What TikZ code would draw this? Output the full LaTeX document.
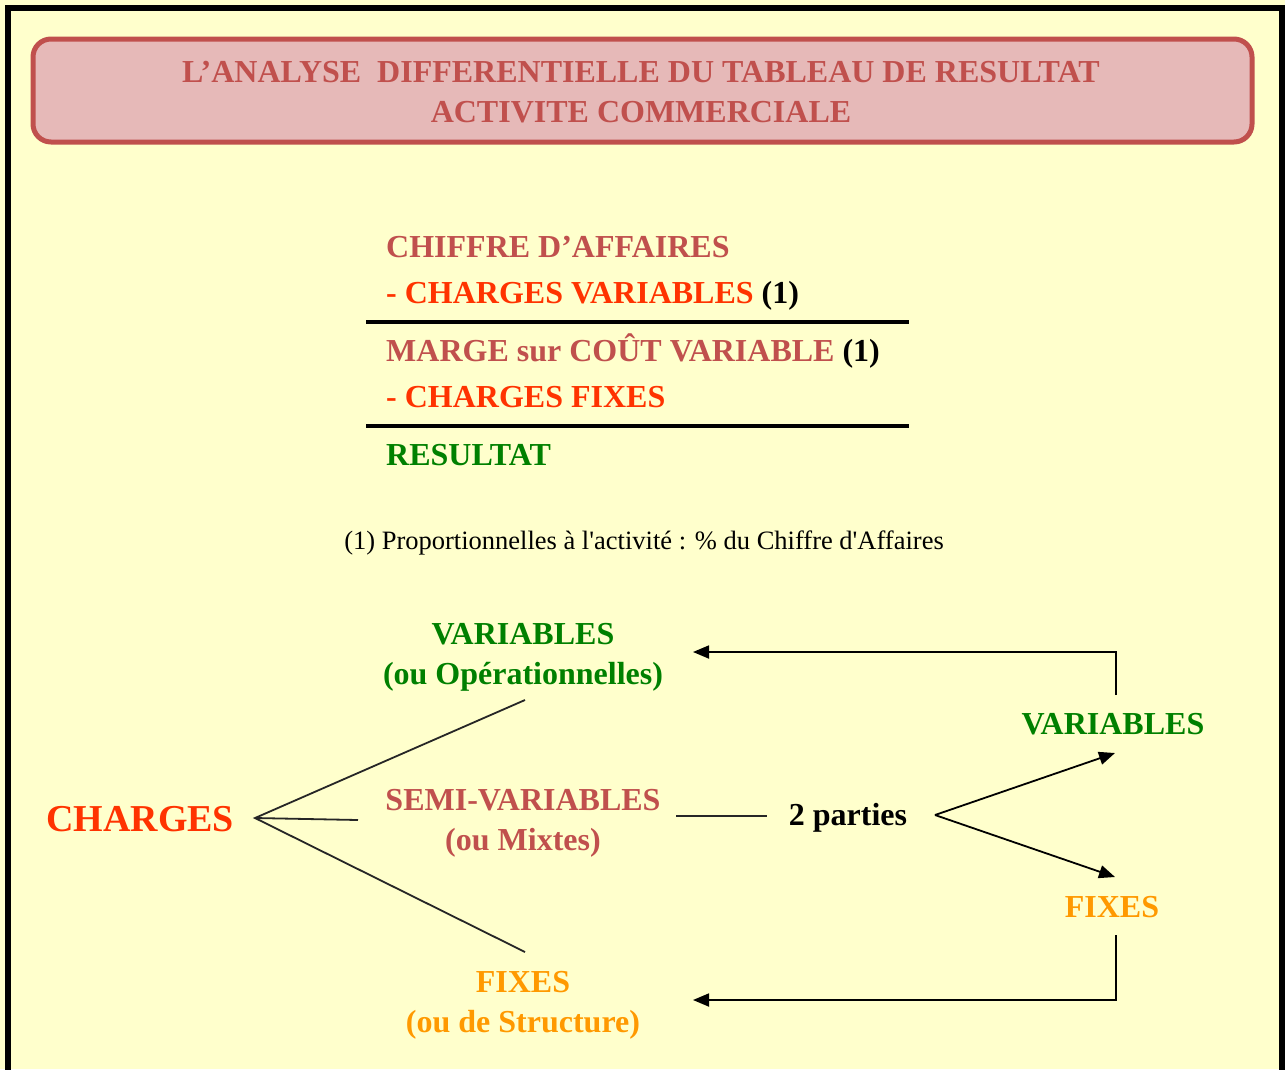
\documentclass[tikz,border=0pt]{standalone}
\usepackage{fontspec}
\setmainfont{Liberation Serif}
\usetikzlibrary{arrows.meta}
\usetikzlibrary{positioning}
\definecolor{fond}{HTML}{FFFFCC}
\definecolor{titre}{HTML}{C0504D}
\definecolor{fondtitre}{HTML}{E6B9B8}
\definecolor{rouge}{HTML}{FF3300}
\definecolor{vert}{HTML}{008000}
\definecolor{orfixe}{HTML}{FF9900}
\tikzstyle{grand} = [font=\bfseries\fontsize{32}{38}\selectfont, inner sep=0pt]
\tikzstyle{cadretitre} = [rectangle, rounded corners=18pt, draw=titre, fill=fondtitre, line width=5pt, minimum width=1219pt, minimum height=103pt]
\tikzstyle{regle} = [line width=4pt]
\tikzstyle{trait} = [line width=1.8pt, draw=black!85]
\tikzstyle{fleche} = [-{Triangle[length=16pt,width=13pt]}, line width=1.8pt]

\begin{document}
\begin{tikzpicture}[x=1pt,y=-1pt]
\fill[fond] (0,0) rectangle (1285,1069);
\useasboundingbox (0,0) rectangle (1285,1069);
\draw[line width=6pt] (8,1080) -- (8,8) -- (1282,8) -- (1282,1080);

 \node (cadre) [cadretitre] at (642.5,90.5) {};
 \node (ti1) [grand, text=titre, anchor=base] at (641,82) {L’ANALYSE\ \ DIFFERENTIELLE DU TABLEAU DE RESULTAT};
 \node (ti2) [grand, text=titre, anchor=base] at (641,122) {ACTIVITE COMMERCIALE};

 \node (ca) [grand, text=titre, anchor=base west] at (386,257) {CHIFFRE D’AFFAIRES};
 \node (cv) [grand, anchor=base west] at (386,303) {\textcolor{rouge}{- CHARGES VARIABLES} (1)};
 \node (mcv) [grand, anchor=base west] at (386,361) {\textcolor{titre}{MARGE sur COÛT VARIABLE} (1)};
 \node (cf) [grand, text=rouge, anchor=base west] at (386,407) {- CHARGES FIXES};
 \node (res) [grand, text=vert, anchor=base west] at (386,465) {RESULTAT};
 \draw[regle] (366,322) -- (909,322);
 \draw[regle] (366,426) -- (909,426);

 \node (note) [font=\fontsize{26.5}{30}\selectfont, inner sep=0pt, anchor=base] at (644,549)
  {(1) Proportionnelles à l\textquotesingle activité : \% du Chiffre d\textquotesingle Affaires};

 \node (charges) [grand, font=\bfseries\fontsize{38}{44}\selectfont, text=rouge, anchor=base west] at (46,831) {CHARGES};
 \node (var) [grand, text=vert, anchor=base] at (523,644) {VARIABLES};
 \node (varop) [grand, text=vert, anchor=base] at (523,684) {(ou Opérationnelles)};
 \node (semi) [grand, text=titre, anchor=base] at (523,810) {SEMI-VARIABLES};
 \node (mixte) [grand, text=titre, anchor=base] at (523,850) {(ou Mixtes)};
 \node (fix) [grand, text=orfixe, anchor=base] at (523,992) {FIXES};
 \node (fixst) [grand, text=orfixe, anchor=base] at (523,1032) {(ou de Structure)};
 \node (parties) [grand, anchor=base] at (848,825) {2 parties};
 \node (vard) [grand, text=vert, anchor=base] at (1113,734) {VARIABLES};
 \node (fixd) [grand, text=orfixe, anchor=base] at (1112,917) {FIXES};

 \coordinate (hub) at (255,818);
 \coordinate (hv) at (525,700);
 \coordinate (hs) at (358,820);
 \coordinate (hf) at (525,952);
 \draw[trait] (hv) -- (hub) -- (hf);
 \draw[trait] (hub) -- (hs);

 \coordinate (s1) at (676,816);
 \coordinate (s2) at (767,816);
 \draw[trait] (s1) -- (s2);

 \coordinate (pt) at (935,815);
 \coordinate (av) at (1115,753);
 \coordinate (af) at (1115,877);
 \draw[fleche] (pt) -- (av);
 \draw[fleche] (pt) -- (af);

 \coordinate (rv) at (1116,695);
 \coordinate (rv2) at (693,652);
 \coordinate (rf) at (1116,935);
 \coordinate (rf2) at (693,1000);
 \draw[fleche] (rv) |- (rv2);
 \draw[fleche] (rf) |- (rf2);
\end{tikzpicture}
\end{document}
